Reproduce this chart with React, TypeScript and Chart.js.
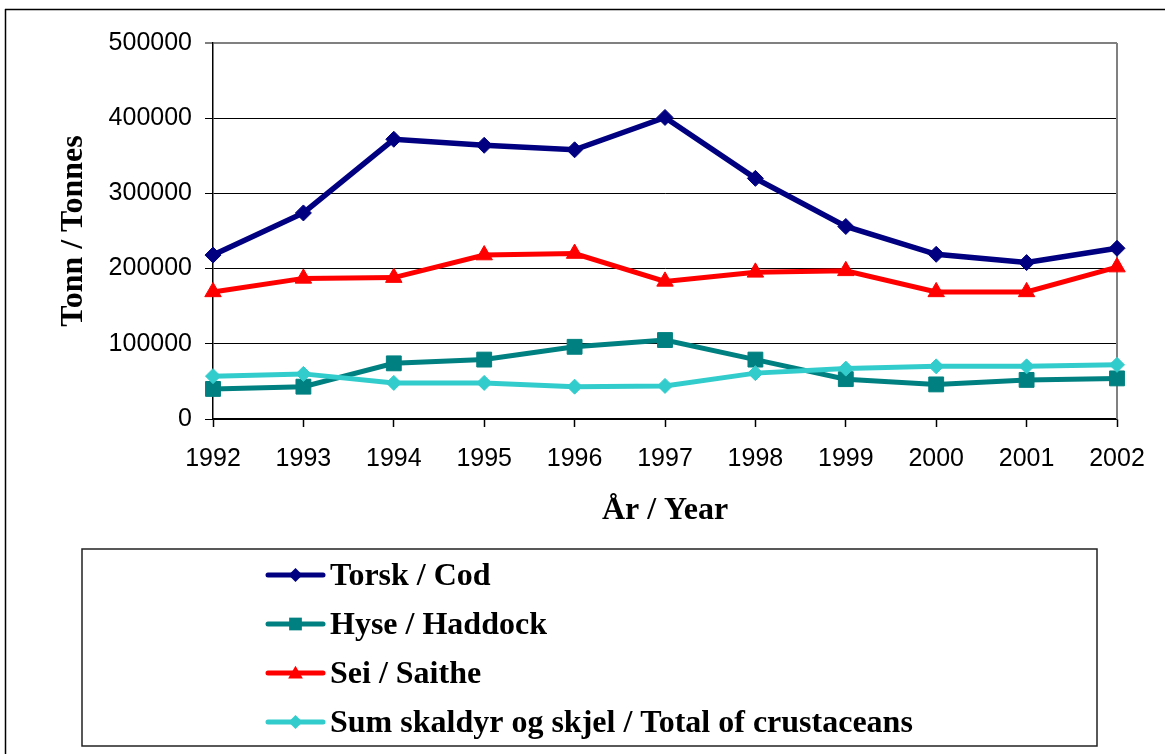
import React, { useEffect, useRef } from "react";
import { Chart, registerables } from "chart.js";

Chart.register(...registerables);

const years = ["1992", "1993", "1994", "1995", "1996", "1997", "1998", "1999", "2000", "2001", "2002"];
const codValues = [218000, 274000, 372000, 364000, 358000, 401000, 320000, 256000, 219000, 208000, 227000];
const haddockValues = [40000, 43000, 74000, 79000, 96000, 105000, 79000, 53000, 46000, 52000, 54000];
const saitheValues = [169000, 187000, 188000, 218000, 220000, 183000, 195000, 197000, 169000, 169000, 202000];
const crustValues = [57000, 60000, 48000, 48000, 43000, 44000, 61000, 67000, 70000, 70000, 72000];
const seriesLabels = [
  "Torsk / Cod",
  "Hyse / Haddock",
  "Sei / Saithe",
  "Sum skaldyr og skjel / Total of crustaceans",
];
const yTicks = [0, 100000, 200000, 300000, 400000, 500000];

const COLORS = ["#000080", "#008080", "#FF0000", "#33CCCC"];
const STYLES = ["rectRot", "rect", "triangle", "rectRot"];
const RADII = [8, 10.5, 9.5, 7.5];
const LEGEND_R = [7, 9, 8.5, 7];

function drawMarker(ctx: CanvasRenderingContext2D, style: string, x: number, y: number, r: number, color: string) {
  ctx.save();
  ctx.fillStyle = color;
  ctx.beginPath();
  if (style === "rectRot") {
    ctx.moveTo(x - r, y);
    ctx.lineTo(x, y - r);
    ctx.lineTo(x + r, y);
    ctx.lineTo(x, y + r);
  } else if (style === "rect") {
    const s = r * Math.SQRT1_2;
    ctx.rect(x - s, y - s, 2 * s, 2 * s);
  } else {
    const h = r * 1.5;
    const w = r * Math.sqrt(3);
    ctx.moveTo(x, y - h / 2 - 1);
    ctx.lineTo(x + w / 2, y + h / 2 - 1);
    ctx.lineTo(x - w / 2, y + h / 2 - 1);
  }
  ctx.closePath();
  ctx.fill();
  ctx.restore();
}

const decorPlugin = {
  id: "decor",
  beforeDraw(chart: any) {
    const ctx = chart.ctx as CanvasRenderingContext2D;
    ctx.save();
    ctx.strokeStyle = "#000";
    ctx.lineWidth = 1.5;
    ctx.beginPath();
    ctx.moveTo(5, 9.5);
    ctx.lineTo(chart.width, 9.5);
    ctx.moveTo(5.5, 9);
    ctx.lineTo(5.5, chart.height);
    ctx.stroke();
    ctx.restore();
  },
  beforeDatasetsDraw(chart: any) {
    const ctx = chart.ctx as CanvasRenderingContext2D;
    const a = chart.chartArea;
    ctx.save();
    ctx.strokeStyle = "#808080";
    ctx.lineWidth = 2;
    ctx.beginPath();
    ctx.moveTo(a.right, a.top);
    ctx.lineTo(a.right, a.bottom);
    ctx.stroke();
    ctx.restore();
  },
  afterDraw(chart: any) {
    const ctx = chart.ctx as CanvasRenderingContext2D;
    ctx.save();
    // legend box
    ctx.strokeStyle = "#222";
    ctx.lineWidth = 1.5;
    ctx.strokeRect(82, 549, 1015, 197);
    const ds = chart.data.datasets;
    ctx.font = "bold 32px 'Liberation Serif', 'Times New Roman', serif";
    ctx.textBaseline = "middle";
    ctx.textAlign = "left";
    for (let i = 0; i < ds.length; i++) {
      const y = 575 + i * 49;
      const color = ds[i].borderColor;
      ctx.strokeStyle = color;
      ctx.lineWidth = 5;
      ctx.lineCap = "round";
      ctx.beginPath();
      ctx.moveTo(268, y);
      ctx.lineTo(323, y);
      ctx.stroke();
      drawMarker(ctx, STYLES[i], 295.5, y, LEGEND_R[i], color);
      ctx.fillStyle = "#000";
      ctx.fillText(ds[i].label, 330, y + 2);
    }
    ctx.restore();
  },
};

export default function App() {
  const ref = useRef<HTMLCanvasElement | null>(null);
  useEffect(() => {
    document.body.style.margin = "0";
    const canvas = ref.current;
    if (!canvas) return;
    const seriesValues = [codValues, haddockValues, saitheValues, crustValues];
    const chart = new Chart(canvas, {
      type: "line",
      data: {
        labels: years,
        datasets: seriesValues.map((vals, i) => ({
          label: seriesLabels[i],
          data: vals,
          borderColor: COLORS[i],
          backgroundColor: COLORS[i],
          pointBackgroundColor: COLORS[i],
          pointBorderColor: COLORS[i],
          pointStyle: STYLES[i] as any,
          pointRadius: RADII[i],
          pointBorderWidth: 1,
          borderWidth: i === 0 ? 5.5 : 5,
          tension: 0,
          fill: false,
          clip: false as any,
          order: 3 - i,
        })),
      },
      options: {
        responsive: false,
        animation: false,
        devicePixelRatio: 1,
        layout: { padding: { left: 0, top: 43, right: 48, bottom: 0 } },
        plugins: {
          legend: { display: false },
          tooltip: { enabled: false },
          title: { display: false },
        },
        scales: {
          x: {
            type: "category",
            offset: false,
            afterFit: (scale: any) => {
              scale.height = 335;
            },
            grid: {
              drawOnChartArea: false,
              drawTicks: true,
              tickLength: 8,
              tickColor: "#000",
              tickWidth: 1.5,
            },
            border: { display: true, color: "#000", width: 1.5 },
            ticks: {
              color: "#000",
              padding: 17,
              maxRotation: 0,
              autoSkip: false,
              font: { family: "'Liberation Sans', Arial, sans-serif", size: 25 },
            },
            title: {
              display: true,
              text: "År / Year",
              color: "#000",
              padding: { top: 0, bottom: 224 },
              font: { family: "'Liberation Serif', 'Times New Roman', serif", size: 32, weight: "bold" },
            },
          },
          y: {
            min: 0,
            max: 500000,
            afterFit: (scale: any) => {
              scale.width = 213;
            },
            afterBuildTicks: (scale: any) => {
              scale.ticks = yTicks.map((v) => ({ value: v }));
            },
            grid: {
              color: (c: any) => (c.tick && c.tick.value === 500000 ? "#808080" : "#000"),
              lineWidth: (c: any) => (c.tick && c.tick.value === 500000 ? 2 : 1),
              drawTicks: true,
              tickLength: 8,
              tickColor: "#000",
              tickWidth: 1,
            },
            border: { display: true, color: "#000", width: 1.5 },
            ticks: {
              color: "#000",
              padding: 13,
              callback: (v: any) => String(v),
              font: { family: "'Liberation Sans', Arial, sans-serif", size: 25 },
            },
            title: {
              display: true,
              text: "Tonn / Tonnes",
              color: "#000",
              padding: { top: 55, bottom: 0 },
              font: { family: "'Liberation Serif', 'Times New Roman', serif", size: 32, weight: "bold" },
            },
          },
        },
      },
      plugins: [decorPlugin],
    });
    return () => chart.destroy();
  }, []);
  return (
    <div style={{ position: "absolute", left: 0, top: 0, width: 1165, height: 754, background: "#fff" }}>
      <canvas ref={ref} width={1165} height={754} style={{ display: "block" }} />
    </div>
  );
}
